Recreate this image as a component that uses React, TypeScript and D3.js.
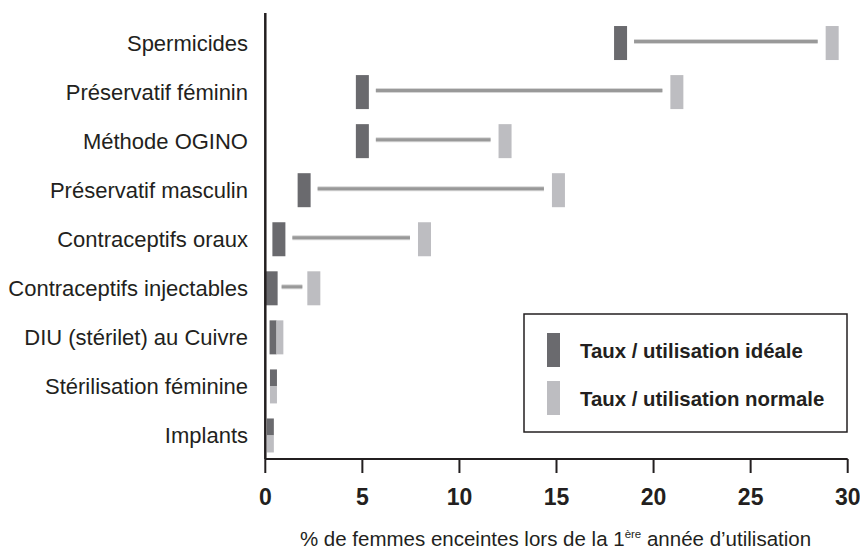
import React from 'react';
import * as d3 from 'd3';

// methods, top to bottom
const METHODS = [
    'Spermicides',
    'Préservatif féminin',
    'Méthode OGINO',
    'Préservatif masculin',
    'Contraceptifs oraux',
    'Contraceptifs injectables',
    'DIU (stérilet) au Cuivre',
    'Stérilisation féminine',
    'Implants',
];

// % pregnant during first year, ideal use vs normal use
const IDEAL = [18.3, 5.0, 5.0, 2.0, 0.7, 0.3, 0.4, 0.42, 0.26];
const NORMAL = [29.2, 21.2, 12.35, 15.1, 8.2, 2.5, 0.75, 0.42, 0.26];

// how the two marks sit in the row: apart, side by side, or one above the other
const LAYOUT = ['pair', 'pair', 'pair', 'pair', 'pair', 'pair', 'side', 'stack', 'stack'];

const X_TICKS = [0, 5, 10, 15, 20, 25, 30];
const LEGEND_LABELS = ['Taux / utilisation idéale', 'Taux / utilisation normale'];

const DARK = '#6a6a6e';
const LIGHT = '#bdbdc1';
const LINK = '#999999';
const INK = '#231f20';
const FONT = "'Liberation Sans', Arial, sans-serif";
const NARROW = "'Liberation Sans Narrow', 'Liberation Sans', sans-serif";

const WIDTH = 860;
const HEIGHT = 550;

export default function App()
{
    const x = d3.scaleLinear().domain([0, 30]).range([265.3, 847.7]);
    const y = d3.scaleBand()
        .domain(METHODS)
        .range([18.5, 460])
        .paddingInner(0.3)
        .paddingOuter(0.15);

    const axisY = 459;
    const barH = 34;

    const rows = METHODS.map((name, i) =>
    {
        const mid = y(name) + y.bandwidth() / 2;
        const layout = LAYOUT[i];
        const w = layout === 'pair' ? 13 : 7;
        const xi = x(IDEAL[i]);
        const xn = x(NORMAL[i]);
        const marks = [];
        if (layout === 'stack')
        {
            marks.push(<rect key="d" x={ xi - w / 2 } y={ mid - barH / 2 } width={ w } height={ barH / 2 } fill={ DARK } />);
            marks.push(<rect key="l" x={ xn - w / 2 } y={ mid } width={ w } height={ barH / 2 } fill={ LIGHT } />);
        }
        else
        {
            marks.push(<rect key="d" x={ xi - w / 2 } y={ mid - barH / 2 } width={ w } height={ barH } fill={ DARK } />);
            marks.push(<rect key="l" x={ xn - w / 2 } y={ mid - barH / 2 } width={ w } height={ barH } fill={ LIGHT } />);
            const x1 = xi + w / 2 + (layout === 'pair' && xn - xi > 60 ? 7 : 4);
            const x2 = xn - w / 2 - (layout === 'pair' && xn - xi > 60 ? 8 : 5);
            if (x2 - x1 > 4)
            {
                marks.push(<line key="k" x1={ x1 } x2={ x2 } y1={ mid - 1.5 } y2={ mid - 1.5 } stroke="#d6d6d6" strokeWidth={ 5 } />);
                marks.push(<line key="m" x1={ x1 } x2={ x2 } y1={ mid - 1.5 } y2={ mid - 1.5 } stroke={ LINK } strokeWidth={ 3 } />);
            }
        }
        return (
            <g key={ name }>
                <text x={ 248 } y={ mid + 7.5 } textAnchor="end" fontFamily={ FONT } fontSize={ 22 } fill={ INK }>{ name }</text>
                { marks }
            </g>
        );
    });

    return (
        <svg width={ WIDTH } height={ HEIGHT } style={ { position: 'absolute', left: 0, top: 0, background: '#fff' } }>
            { rows }

            {/* axes */}
            <line x1={ x(0) } x2={ x(0) } y1={ 13 } y2={ axisY } stroke={ INK } strokeWidth={ 2.5 } />
            <line x1={ x(0) } x2={ x(30) } y1={ axisY } y2={ axisY } stroke={ INK } strokeWidth={ 2 } />
            { X_TICKS.map((t) => (
                <g key={ t } transform={ `translate(${ x(t) },0)` }>
                    <line y1={ axisY } y2={ axisY + 14 } stroke={ INK } strokeWidth={ 2 } />
                    <text y={ 505 } textAnchor="middle" fontFamily={ NARROW } fontWeight="bold" fontSize={ 23 } fill={ INK }>{ t }</text>
                </g>
            )) }

            <text x={ 555.5 } y={ 546 } textAnchor="middle" fontFamily={ FONT } fontSize={ 20.5 } fill={ INK }>
                % de femmes enceintes lors de la 1
                <tspan fontSize={ 11.5 } dy={ -8 }>ère</tspan>
                <tspan dy={ 8 }> année d’utilisation</tspan>
            </text>

            {/* legend */}
            <rect x={ 524 } y={ 314 } width={ 323 } height={ 118 } fill="#fff" stroke={ INK } strokeWidth={ 1.5 } />
            { LEGEND_LABELS.map((label, i) => (
                <g key={ label } transform={ `translate(0,${ i * 48 })` }>
                    <rect x={ 547 } y={ 333 } width={ 13 } height={ 34 } fill={ i === 0 ? DARK : LIGHT } />
                    <text x={ 580 } y={ 357.5 } fontFamily={ FONT } fontWeight="bold" fontSize={ 20.4 } fill={ INK }>{ label }</text>
                </g>
            )) }
        </svg>
    );
}
